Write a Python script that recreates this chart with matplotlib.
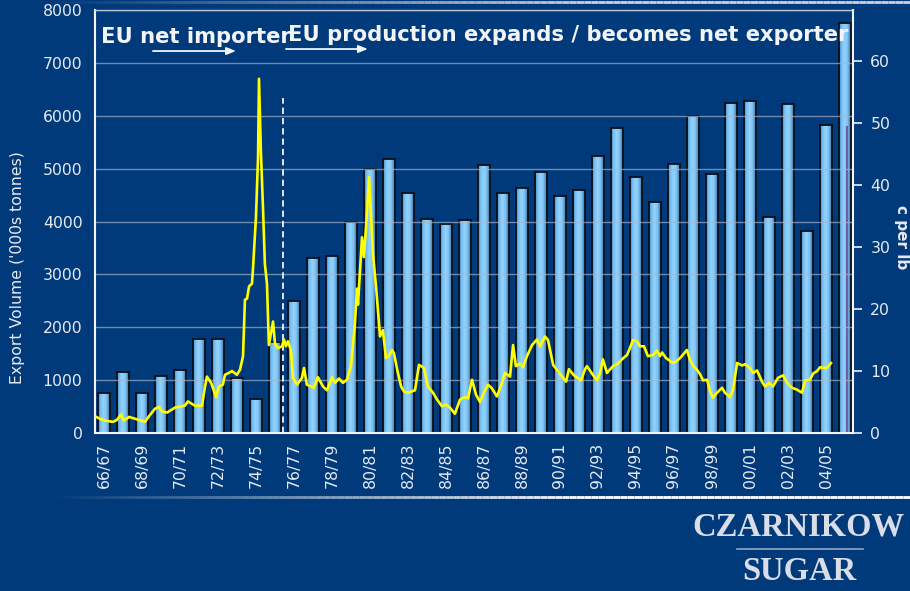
import numpy as np
import matplotlib
matplotlib.use("Agg")
import matplotlib.pyplot as plt
from matplotlib.colors import LinearSegmentedColormap
from matplotlib.collections import LineCollection

# ---------------- data ----------------
seasons = ["66/67", "67/68", "68/69", "69/70", "70/71", "71/72", "72/73", "73/74",
           "74/75", "75/76", "76/77", "77/78", "78/79", "79/80", "80/81", "81/82",
           "82/83", "83/84", "84/85", "85/86", "86/87", "87/88", "88/89", "89/90",
           "90/91", "91/92", "92/93", "93/94", "94/95", "95/96", "96/97", "97/98",
           "98/99", "99/00", "00/01", "01/02", "02/03", "03/04", "04/05", "05/06"]

exports = [760, 1150, 750, 1080, 1190, 1770, 1770, 1040, 650, 1720,
           2490, 3310, 3340, 4000, 4990, 5180, 4530, 4050, 3950, 4030,
           5060, 4540, 4630, 4940, 4490, 4600, 5230, 5770, 4840, 4360,
           5080, 5990, 4890, 6250, 6270, 4090, 6220, 3820, 5830, 7760]

# world raw sugar price (c per lb), decimal year
price_year = [1966.53, 1966.79, 1967.05, 1967.47, 1967.68, 1967.90, 1968.05, 1968.32,
              1968.64, 1969.05, 1969.16, 1969.37, 1969.68, 1969.90, 1970.05, 1970.32,
              1970.74, 1971.26, 1971.42, 1971.79, 1972.16, 1972.32, 1972.42, 1972.64,
              1972.90, 1973.05, 1973.26, 1973.37, 1973.58, 1973.74, 1974.00, 1974.16,
              1974.32, 1974.42, 1974.53, 1974.64, 1974.79, 1974.84, 1975.00, 1975.11,
              1975.16, 1975.26, 1975.37, 1975.47, 1975.58, 1975.68, 1975.90, 1976.00,
              1976.16, 1976.37, 1976.47, 1976.58, 1976.68, 1976.84, 1976.95, 1977.16,
              1977.42, 1977.53, 1977.68, 1978.05, 1978.26, 1978.53, 1978.74, 1979.00,
              1979.16, 1979.37, 1979.58, 1979.79, 1980.00, 1980.21, 1980.32, 1980.37,
              1980.58, 1980.68, 1980.84, 1980.95, 1981.16, 1981.32, 1981.53, 1981.68,
              1981.84, 1982.00, 1982.16, 1982.26, 1982.47, 1982.64, 1982.79, 1983.00,
              1983.37, 1983.58, 1983.84, 1984.05, 1984.32, 1984.53, 1984.79, 1985.00,
              1985.21, 1985.47, 1985.74, 1986.00, 1986.16, 1986.37, 1986.58, 1986.79,
              1986.95, 1987.21, 1987.42, 1987.68, 1987.95, 1988.11, 1988.37, 1988.53,
              1988.68, 1988.90, 1989.05, 1989.26, 1989.53, 1989.79, 1989.95, 1990.21,
              1990.37, 1990.64, 1990.84, 1991.11, 1991.32, 1991.47, 1991.74, 1992.11,
              1992.32, 1992.42, 1992.68, 1992.95, 1993.11, 1993.26, 1993.47, 1993.79,
              1994.05, 1994.26, 1994.53, 1994.68, 1994.84, 1995.05, 1995.21, 1995.42,
              1995.63, 1995.90, 1996.11, 1996.26, 1996.37, 1996.58, 1996.90, 1997.05,
              1997.32, 1997.68, 1997.84, 1998.00, 1998.21, 1998.37, 1998.53, 1998.74,
              1998.90, 1999.05, 1999.26, 1999.53, 1999.68, 1999.95, 2000.11, 2000.32,
              2000.58, 2000.74, 2001.00, 2001.16, 2001.37, 2001.63, 2001.79, 2002.00,
              2002.21, 2002.47, 2002.74, 2002.95, 2003.21, 2003.47, 2003.74, 2003.90,
              2004.16, 2004.32, 2004.53, 2004.68, 2004.95, 2005.05, 2005.26]

price_cents = [2.7, 2.3, 2.0, 1.8, 2.1, 3.0, 2.0, 2.6,
               2.3, 1.9, 1.8, 2.7, 3.9, 4.2, 3.5, 3.3,
               4.1, 4.4, 5.1, 4.4, 4.4, 7.5, 9.1, 8.1,
               5.8, 7.5, 7.8, 9.4, 9.7, 10.0, 9.4, 10.2,
               12.4, 21.5, 21.7, 23.7, 24.1, 26.3, 34.8, 44.5,
               57.2, 45.5, 36.4, 27.3, 24.1, 14.2, 18.0, 14.5,
               13.7, 14.0, 15.1, 14.0, 14.8, 13.4, 8.9, 7.8,
               8.9, 10.5, 7.8, 7.3, 9.0, 7.5, 6.9, 9.0,
               8.1, 8.8, 8.1, 8.6, 10.8, 17.7, 23.3, 20.7,
               31.6, 28.4, 35.4, 41.3, 28.9, 23.6, 15.6, 16.6,
               12.1, 12.4, 13.4, 12.9, 9.7, 7.5, 6.7, 6.5,
               6.9, 11.0, 10.5, 7.5, 6.5, 5.4, 4.3, 4.6,
               4.1, 3.1, 5.4, 5.8, 5.6, 8.6, 6.2, 5.0,
               6.2, 7.8, 7.2, 5.9, 8.1, 9.7, 9.1, 14.2,
               10.8, 11.2, 10.6, 12.4, 14.2, 15.1, 14.0, 15.6,
               15.0, 11.0, 10.2, 9.1, 8.3, 10.3, 9.3, 8.5,
               10.3, 10.8, 9.6, 8.5, 9.7, 11.9, 9.7, 10.8,
               11.2, 11.9, 12.6, 13.7, 15.0, 14.8, 14.0, 14.0,
               12.4, 12.6, 13.3, 12.4, 13.0, 12.1, 11.4, 11.4,
               12.1, 13.4, 11.8, 10.9, 10.2, 9.5, 8.5, 8.6,
               6.7, 5.7, 6.5, 7.3, 6.5, 5.8, 7.0, 11.3,
               10.9, 11.1, 10.5, 9.7, 10.1, 8.3, 7.5, 8.1,
               7.5, 8.9, 9.3, 8.1, 7.3, 7.0, 6.5, 8.5,
               8.6, 9.6, 10.0, 10.6, 10.5, 10.5, 11.3]

left_ticks = [0, 1000, 2000, 3000, 4000, 5000, 6000, 7000, 8000]
right_ticks = [0, 10, 20, 30, 40, 50, 60]
marker_0506 = 5800          # thin purple marker inside the 05/06 bar
regime_change = 1976.44     # dashed divider (decimal year)

title_left = "EU net importer"
title_right = "EU production expands / becomes net exporter"

# ---------------- style ----------------
NAVY = "#013a7a"
WHITE = "#f2f4f8"
TICKC = "#e6e9f0"

fig = plt.figure(figsize=(9.1, 5.91), dpi=100, facecolor=NAVY)
ax = fig.add_axes([95 / 910, 1 - 433 / 591, (853 - 95) / 910, (433 - 10) / 591])
ax.set_facecolor(NAVY)

x = np.arange(len(seasons))
w = 0.62
bars = ax.bar(x, exports, width=w, color="none", edgecolor="#0b0f18",
              linewidth=1.3, zorder=1.2)
cmap = LinearSegmentedColormap.from_list(
    "barg", [(0, "#2e5f8f"), (0.15, "#6fb8ee"), (0.45, "#92d4ff"),
             (0.72, "#7cc3f4"), (1, "#3a6c9e")])
grad = np.linspace(0, 1, 64).reshape(1, -1)
for b in bars:
    x0, bw, bh = b.get_x(), b.get_width(), b.get_height()
    im = ax.imshow(grad, cmap=cmap, extent=(x0, x0 + bw, 0, bh), aspect="auto",
                   interpolation="bilinear", zorder=1.0)
    im.set_clip_path(b)
ax.vlines(x[-1] + 0.08, 0, marker_0506, color="#6c5fa6", lw=1.6, zorder=1.3)

ax.set_xlim(-0.47, 39.42)
ax.set_ylim(0, 8000)
ax.set_yticks(left_ticks)
ax.set_xticks(x[::2])
ax.set_xticklabels(seasons[::2], rotation=90)
ax.tick_params(axis="y", length=0, pad=9, labelsize=11.3, labelcolor=TICKC)
ax.tick_params(axis="x", length=0, pad=7, labelsize=11.3, labelcolor=TICKC)
ax.set_axisbelow("line")
ax.yaxis.grid(True, color="#aab6cc", lw=1.0, alpha=0.65)

for s in ["left", "bottom"]:
    ax.spines[s].set_color(WHITE)
    ax.spines[s].set_linewidth(1.5)
ax.spines["top"].set_color("#b9c3d6")
ax.spines["top"].set_linewidth(1.0)
ax.spines["right"].set_visible(False)

# dashed divider
ax.vlines(regime_change - 1967, 0, 6330, colors=WHITE, linestyles=(0, (3.5, 2.2)),
          lw=1.3, zorder=4)

# annotations
ax.text(-0.16, 7376, title_left, color=WHITE, fontsize=15.2, fontweight="bold",
        va="baseline", ha="left", zorder=6)
ax.text(9.68, 7405, title_right, color=WHITE, fontsize=15.2, fontweight="bold",
        va="baseline", ha="left", zorder=6)
arrow_kw = dict(arrowstyle="-|>,head_length=0.55,head_width=0.22", color=WHITE, lw=1.3,
                shrinkA=0, shrinkB=0)
ax.annotate("", xy=(6.95, 7224), xytext=(2.58, 7224), arrowprops=arrow_kw, zorder=6)
ax.annotate("", xy=(13.89, 7262), xytext=(9.58, 7262), arrowprops=arrow_kw, zorder=6)

ax.text(-0.102, 0.39, "Export Volume ('000s tonnes)", transform=ax.transAxes,
        rotation=90, ha="center", va="center", fontsize=11.3, color=TICKC)

# price line on secondary axis
ax2 = ax.twinx()
ax2.plot(np.array(price_year) - 1967, price_cents, color="#ffff00", lw=1.9,
         solid_joinstyle="round", zorder=3)
ax2.set_ylim(0, 68.3)
ax2.set_yticks(right_ticks)
ax2.tick_params(axis="y", length=6.5, width=1.2, color=WHITE, pad=6,
                labelsize=11.3, labelcolor=TICKC)
for s in ["left", "bottom", "top"]:
    ax2.spines[s].set_visible(False)
ax2.spines["right"].set_color(WHITE)
ax2.spines["right"].set_linewidth(1.5)
ax2.set_xlim(-0.47, 39.42)
ax2.text(1.064, 0.463, "c per lb", transform=ax2.transAxes, rotation=270,
         ha="center", va="center", fontsize=11, fontweight="bold", color=TICKC)

# slide decorations: fading horizontal rules
def fading_rule(y, x0, x1, color):
    xs = np.linspace(x0, x1, 120)
    segs = [[(xs[i], y), (xs[i + 1], y)] for i in range(len(xs) - 1)]
    alphas = np.clip(np.linspace(0.0, 1.6, len(segs)), 0, 1)
    base = matplotlib.colors.to_rgb(color)
    cols = [(*base, a) for a in alphas]
    lc = LineCollection(segs, colors=cols, linewidths=2.0, transform=fig.transFigure)
    fig.add_artist(lc)

fading_rule(1 - 2 / 591, 47 / 910, 1.0, "#c9d0de")
fading_rule(1 - 497 / 591, 47 / 910, 1.0, "#ffffff")

# logo
LOGO = "#d9dde8"
fig.text(798 / 910, 1 - 527 / 591, "CZARNIKOW", ha="center", va="center",
         family="Liberation Serif", fontweight="bold", fontsize=23.5, color=LOGO)
fig.text(799 / 910, 1 - 571 / 591, "SUGAR", ha="center", va="center",
         family="Liberation Serif", fontweight="bold", fontsize=23.5, color=LOGO)
fig.add_artist(plt.Line2D([737 / 910, 863 / 910], [1 - 549 / 591, 1 - 549 / 591],
                          color="#8fa6c8", lw=1.2, transform=fig.transFigure))

fig.savefig("out.png", dpi=100, facecolor=NAVY)
